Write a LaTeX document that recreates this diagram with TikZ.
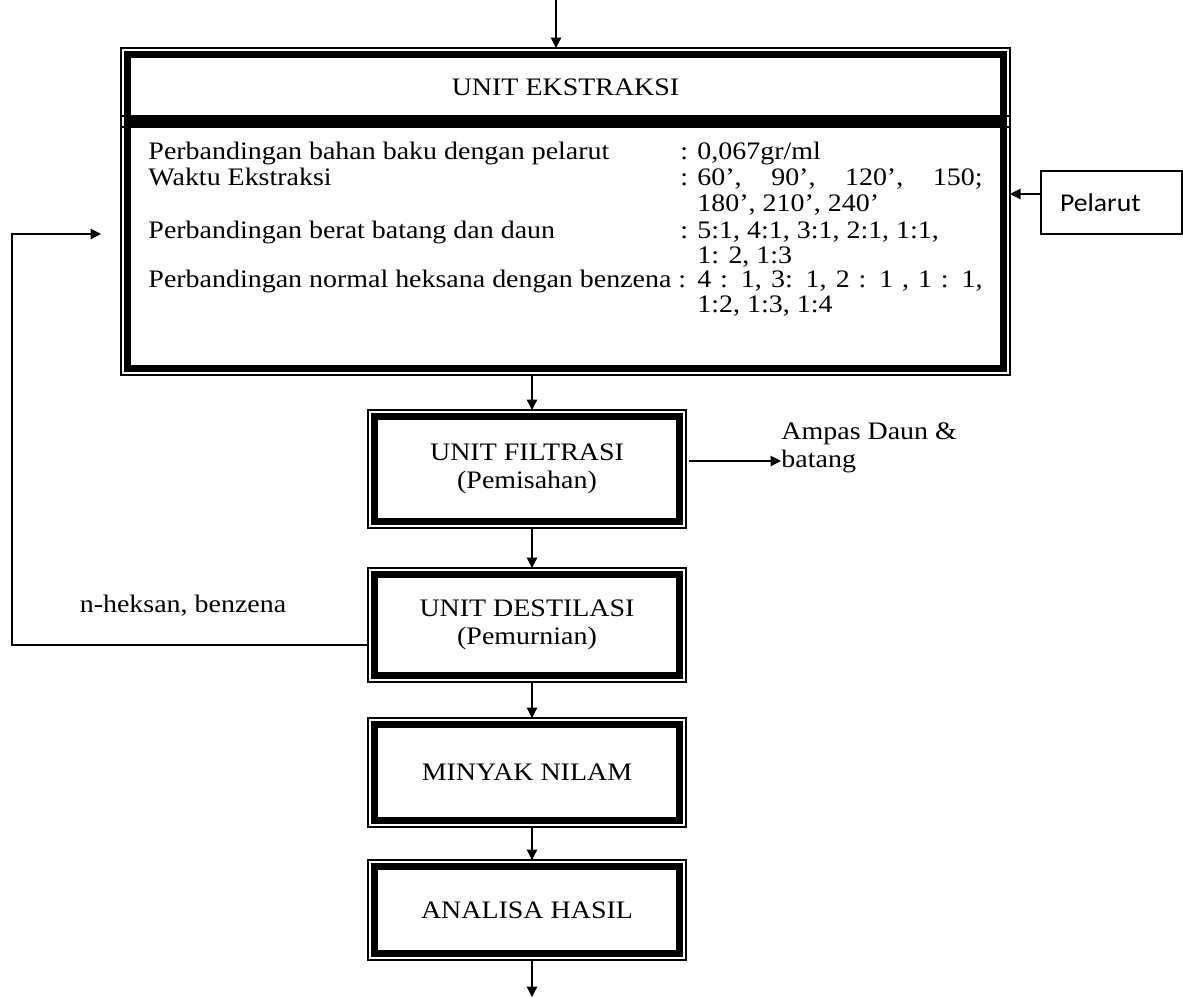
\documentclass[tikz,border=0pt]{standalone}
\usepackage{fontspec}
\setmainfont[FakeStretch=1.11]{Liberation Serif}
\newfontfamily\calibfont[FakeStretch=1.08]{Carlito}
\usetikzlibrary{arrows.meta,calc}
\newcommand\thickinner[1]{\draw[innerline] ([shift={(2.75pt,2.75pt)}]#1.south west) rectangle ([shift={(-2.75pt,-2.75pt)}]#1.north east);}
\begin{document}
\begin{tikzpicture}[x=0.429pt, y=-0.429pt,
  every node/.style={font=\fontsize{10.8}{12}\selectfont},
  outerbox/.style={draw, line width=0.5pt, inner sep=0pt, outer sep=0pt, align=center},
  innerline/.style={line width=3pt},
  conn/.style={line width=0.5pt, -{Triangle[length=4.5pt,width=4.5pt]}},
  txt/.style={inner sep=0pt, anchor=west, text height=7.6pt, text depth=2.2pt},
]
\useasboundingbox (0,0) rectangle (1183,997);

% boxes
\node[outerbox, minimum width=889*0.429pt, minimum height=259*0.429pt] (cont) at (565.5,245.5) {};
\thickinner{cont}
\node[outerbox, minimum width=889*0.429pt, minimum height=79*0.429pt] (head) at (565.5,87.5) {UNIT EKSTRAKSI};
\thickinner{head}
\node[outerbox, minimum width=318*0.429pt, minimum height=118*0.429pt] (filt) at (527,469) {UNIT FILTRASI\\(Pemisahan)};
\thickinner{filt}
\node[outerbox, minimum width=318*0.429pt, minimum height=114*0.429pt] (dest) at (527,625) {UNIT DESTILASI\\(Pemurnian)};
\thickinner{dest}
\node[outerbox, minimum width=318*0.429pt, minimum height=109*0.429pt] (miny) at (527,772.5) {MINYAK NILAM};
\thickinner{miny}
\node[outerbox, minimum width=318*0.429pt, minimum height=100*0.429pt] (anal) at (527,910) {ANALISA HASIL};
\thickinner{anal}
\node[outerbox, align=left, text width=103*0.429pt, inner xsep=19*0.429pt, minimum height=63*0.429pt, font=\calibfont\fontsize{11}{12}\selectfont] (pel) at (1111.5,202.5) {Pelarut};

% content text
\node[txt] (lab1) at (148,153) {Perbandingan bahan baku dengan pelarut};
\node[txt] (lab2) at (148,179) {Waktu Ekstraksi};
\node[txt] (lab3) at (148,232) {Perbandingan berat batang dan daun};
\node[txt] (lab4) at (148,281) {Perbandingan normal heksana dengan benzena :};
\node[txt] (col1) at (680,153) {:};
\node[txt] (col2) at (680,179) {:};
\node[txt] (col3) at (680,232) {:};
\node[txt] (v1) at (697,153) {0,067gr/ml};
\node[txt] (v2) at (697,179) {\makebox[122.3pt][s]{60’, 90’, 120’, 150;}};
\node[txt] (v3) at (697,205) {180’, 210’, 240’};
\node[txt] (v4) at (697,232) {5:1, 4:1, 3:1, 2:1, 1:1,};
\node[txt] (v5) at (697,257) {1: 2, 1:3};
\node[txt] (v6) at (697,281) {\makebox[122.3pt][s]{4 : 1, 3: 1, 2 : 1 , 1 : 1,}};
\node[txt] (v7) at (697,306) {1:2, 1:3, 1:4};

% side texts
\node[inner sep=0pt, anchor=west, align=left] (ampas) at (781,448) {Ampas Daun \&\\batang};
\node[inner sep=0pt] (heks) at (183,606) {n-heksan, benzena};

% connectors
\coordinate (top) at (556,0);
\coordinate (ax) at (532,0);
\coordinate (bot) at (532,997);
\draw[conn] (top) -- (top |- head.north);
\draw[conn] (cont.south -| ax) -- (filt.north -| ax);
\draw[conn] (filt.south -| ax) -- (dest.north -| ax);
\draw[conn] (dest.south -| ax) -- (miny.north -| ax);
\draw[conn] (miny.south -| ax) -- (anal.north -| ax);
\draw[conn] (anal.south -| ax) -- (bot);

\coordinate (py) at (0,194);
\draw[conn] (pel.west |- py) -- (cont.east |- py);

\coordinate (fy) at (0,461);
\draw[conn] ([xshift=1.3pt]filt.east |- fy) -- (ampas.west |- fy);

\coordinate (ly) at (0,645);
\coordinate (lp1) at (12,645);
\coordinate (lp2) at (12,234);
\coordinate (rt) at (101,234);
\draw[conn] (dest.west |- ly) -- (lp1) -- (lp2) -- (rt);
\end{tikzpicture}
\end{document}
